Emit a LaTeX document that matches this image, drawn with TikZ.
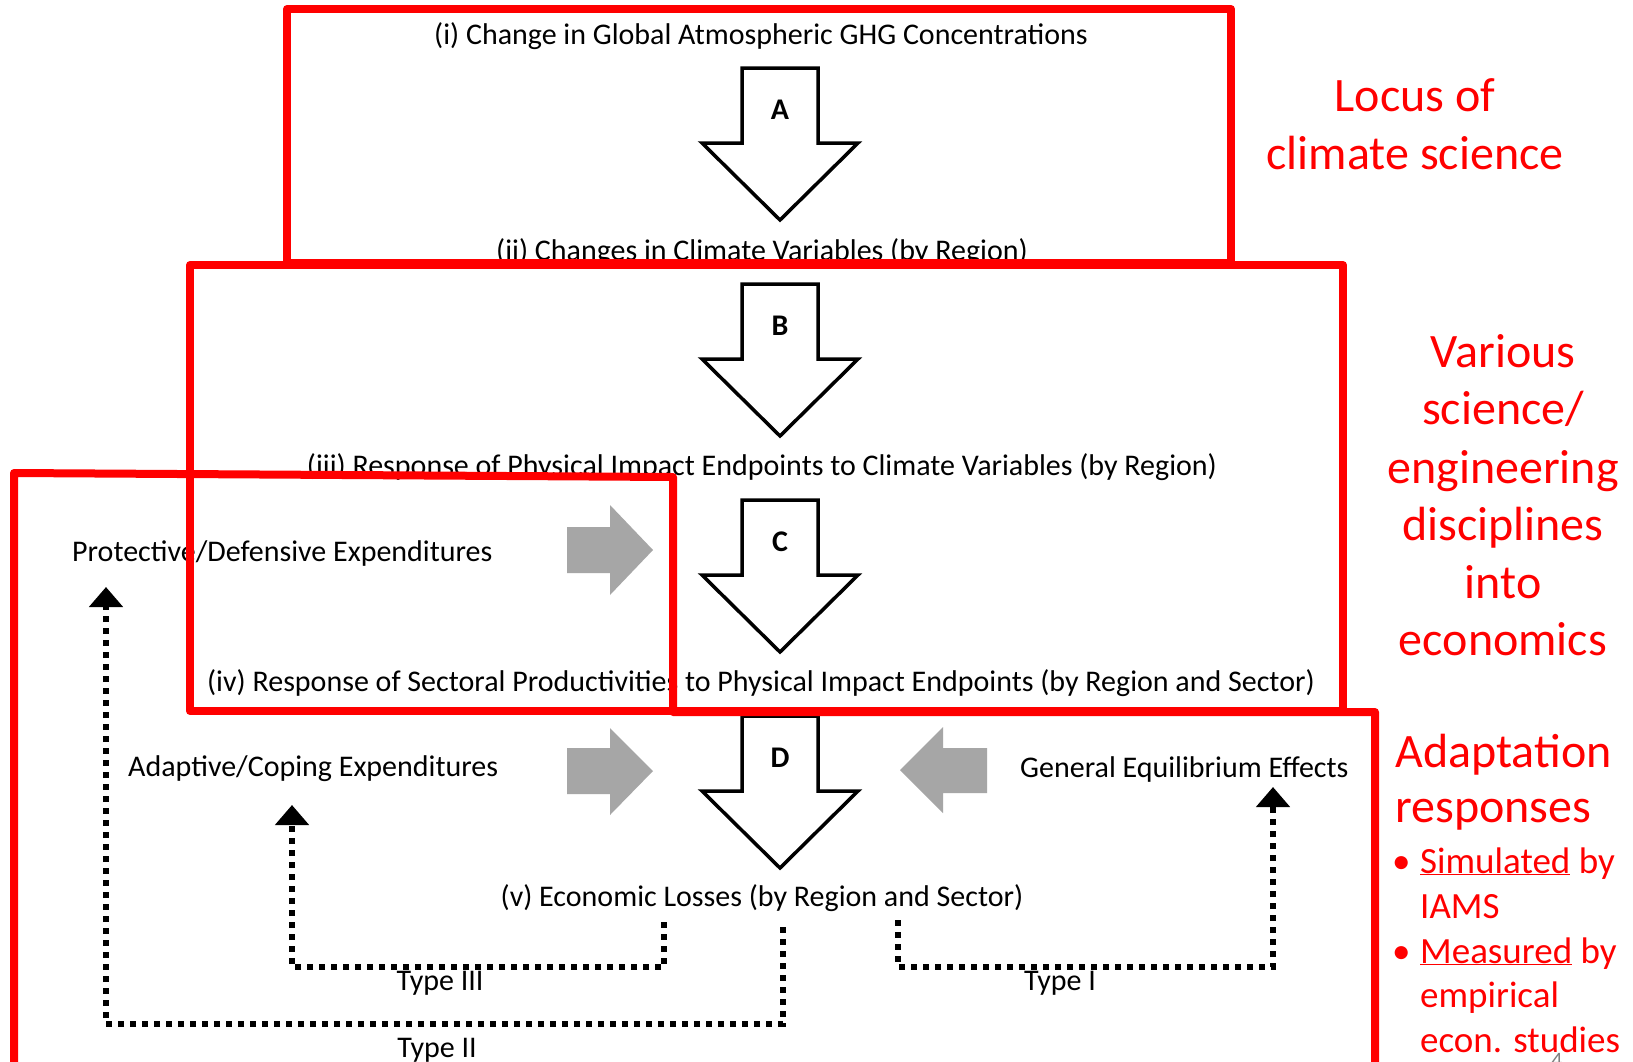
\documentclass[tikz,border=0pt]{standalone}
\usepackage{fontspec}
\setmainfont{Carlito}
\usetikzlibrary{arrows.meta}
\definecolor{arrowgray}{RGB}{166,166,166}
\definecolor{boxred}{RGB}{255,0,0}
\begin{document}
\begin{tikzpicture}[x=1pt,y=-1pt,
  lbl/.style={font=\fontsize{30}{34}\selectfont, inner sep=0pt},
  redbox/.style={draw=boxred, line width=8pt, line join=round},
  bigarrow/.style={draw=black, line width=3.5pt, fill=white, line join=miter},
  grayarrow/.style={fill=arrowgray, draw=none},
  dotline/.style={line width=6pt, dash pattern=on 6pt off 6pt, -{Triangle[width=33pt,length=20pt]}},
  letter/.style={font=\fontsize{30}{30}\selectfont\bfseries, inner sep=0pt},
  redbig/.style={text=boxred, font=\fontsize{48}{58}\selectfont, inner sep=0pt},
  redsmall/.style={text=boxred, font=\fontsize{37}{45}\selectfont, inner sep=0pt, anchor=base west},
]
\useasboundingbox (0,0) rectangle (1633,1061);
\fill[white] (0,0) rectangle (1633,1061);

% big hollow arrows
\foreach \n/\t in {A/68, B/284, C/500, D/716} {
  \draw[bigarrow] (742,\t) -- (818,\t) -- (818,\t+75) -- (858,\t+75) -- (780,\t+152) -- (702,\t+75) -- (742,\t+75) -- cycle;
  \node[letter] (let\n) at (780,\t+42) {\n};
}

% grey block arrows
\draw[grayarrow] (567,527) -- (610,527) -- (610,505) -- (653,550) -- (610,595) -- (610,573) -- (567,573) -- cycle;
\draw[grayarrow] (567,748) -- (610,748) -- (610,728) -- (653,771) -- (610,815) -- (610,794) -- (567,794) -- cycle;
\draw[grayarrow] (987,748) -- (943,748) -- (943,727) -- (900,770) -- (943,813) -- (943,793) -- (987,793) -- cycle;

% black labels
\node[lbl] (t1) at (761,36) {(i) Change in Global Atmospheric GHG Concentrations};
\node[lbl] (t2) at (762,252) {(ii) Changes in Climate Variables (by Region)};
\node[lbl] (t3) at (762,467) {(iii) Response of Physical Impact Endpoints to Climate Variables (by Region)};
\node[lbl] (t4) at (761,683) {(iv) Response of Sectoral Productivities to Physical Impact Endpoints (by Region and Sector)};
\node[lbl] (t5) at (762,898) {(v) Economic Losses (by Region and Sector)};
\node[lbl, anchor=west] (prot) at (72,553) {Protective/Defensive Expenditures};
\node[lbl, anchor=west] (adap) at (128,769) {Adaptive/Coping Expenditures};
\node[lbl, anchor=west] (gen) at (1020,769) {General Equilibrium Effects};
\node[lbl] (ty3) at (440,983) {Type III};
\node[lbl] (ty1) at (1060,983) {Type I};
\node[lbl] (ty2) at (437,1050) {Type II};

% dotted feedback connectors
\coordinate (s2) at (783,927);
\coordinate (e2) at (106,587);
\coordinate (s3) at (664,922);
\coordinate (e3) at (292,805);
\coordinate (s1) at (898,920);
\coordinate (e1) at (1273,787);
\draw[dotline] (s2) -- ++(0,97) -| (e2);
\draw[dotline] (s3) -- ++(0,45) -| (e3);
\draw[dotline] (s1) -- ++(0,47) -| (e1);

% red boxes
\draw[redbox] (287,9) rectangle (1231,263);
\draw[redbox] (190,265) rectangle (1343,711);
\draw[redbox] (14,1075) -- (14,473) -- (673,477) -- (673,712) -- (1375,712) -- (1375,1075);

% red annotations
\node[redbig, anchor=base] (loc1) at (1415,111) {Locus of};
\node[redbig, anchor=base] (loc2) at (1415,169) {climate science};
\node[redbig, anchor=base] (var1) at (1503,367) {Various};
\node[redbig, anchor=base] (var2) at (1503,424) {science/};
\node[redbig, anchor=base] (var3) at (1503,483) {engineering};
\node[redbig, anchor=base] (var4) at (1503,540) {disciplines};
\node[redbig, anchor=base] (var5) at (1503,598) {into};
\node[redbig, anchor=base] (var6) at (1503,655) {economics};
\node[redbig, anchor=base west] (ad1) at (1395,767) {Adaptation};
\node[redbig, anchor=base west] (ad2) at (1395,822) {responses};
\node[redsmall] (b1) at (1392,873) {\makebox[28pt][l]{\textbullet}\underline{Simulated} by};
\node[redsmall] (b2) at (1420,918) {IAMS};
\node[redsmall] (b3) at (1392,963) {\makebox[28pt][l]{\textbullet}\underline{Measured} by};
\node[redsmall] (b4) at (1420,1007) {empirical};
\node[redsmall] (b5) at (1420,1052) {econ. studies};
\node[text=gray, font=\fontsize{22}{22}\selectfont, inner sep=0pt, anchor=north] (pg) at (1557,1053) {4};
\end{tikzpicture}
\end{document}
